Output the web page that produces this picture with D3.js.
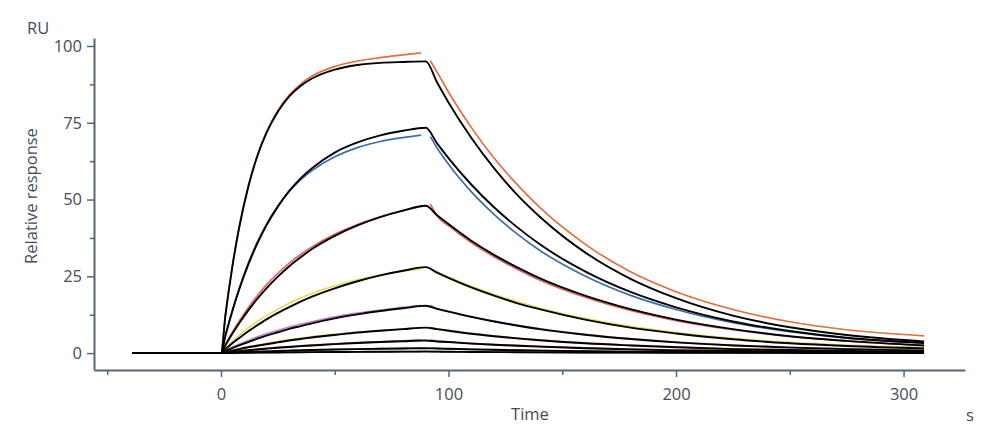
<!DOCTYPE html>
<html>
<head>
<meta charset="utf-8">
<script src="https://cdn.jsdelivr.net/npm/d3@7"></script>
<style>
body { margin: 0; background: #fff; }
text { font-family: "Open Sans", "Noto Sans", sans-serif; fill: #454c57; }
</style>
</head>
<body>
<div id="viz"></div>
<script>
// time points (s) of measured association / dissociation phases and of the fitted curves
const tAssoc = [-39, 0, 2, 5, 8, 12, 16, 20, 25, 30, 35, 40, 50, 60, 70, 80, 88];
const tDissoc = [92, 95, 100, 110, 120, 130, 140, 160, 180, 200, 225, 250, 275, 309];
const tFit = [-39, 0, 2, 5, 8, 12, 16, 20, 25, 30, 35, 40, 50, 60, 70, 80, 90,
              95, 100, 110, 120, 130, 140, 160, 180, 200, 225, 250, 275, 309];

// measured responses (RU), one pair of arrays per concentration, highest first
const orangeAssoc = [0, 0, 12.8, 28.5, 41.2, 54.5, 64.5, 72, 79, 84, 87.6, 90.2, 93.3, 95.1, 96.2, 97.1, 97.8];
const orangeDissoc = [95.2, 91.5, 85, 73.5, 63.5, 55, 47.5, 35.5, 26.5, 20, 14.2, 10.2, 7.6, 5.6];
const blueAssoc = [0, 0, 5.8, 13.8, 21, 29.3, 36.2, 42, 47.8, 52.6, 56.4, 59.4, 63.9, 66.9, 68.9, 70.2, 71.0];
const blueDissoc = [70.5, 66.8, 61.5, 52.6, 45.2, 38.9, 33.5, 25.1, 18.8, 14.2, 9.9, 7.0, 4.9, 3.3];
const redAssoc = [0, 0, 2.8, 6.8, 10.4, 14.8, 18.7, 22.2, 26, 29.3, 32.1, 34.6, 38.7, 41.9, 44.4, 46.4, 47.8];
const redDissoc = [48.6, 44.6, 41.5, 36, 31.4, 27.4, 23.8, 18.2, 13.9, 10.6, 7.6, 5.4, 3.9, 2.5];
const yellowAssoc = [0, 0, 1.6, 3.8, 5.8, 8.2, 10.3, 12.2, 14.3, 16.2, 17.9, 19.4, 21.9, 23.9, 25.5, 26.7, 27.5];
const yellowDissoc = [27.4, 26.4, 24.8, 21.8, 19.1, 16.8, 14.7, 11.3, 8.7, 6.7, 4.8, 3.5, 2.6, 1.8];
const purpleAssoc = [0, 0, 0.8, 1.9, 2.9, 4.1, 5.3, 6.3, 7.4, 8.5, 9.4, 10.2, 11.8, 13.0, 14.0, 14.9, 15.5];
const purpleDissoc = [15.6, 14.5, 13.6, 11.9, 10.4, 9.1, 8.0, 6.1, 4.7, 3.6, 2.6, 1.9, 1.4, 0.9];
const oliveAssoc = [0, 0, 0.4, 0.9, 1.4, 2.0, 2.6, 3.1, 3.7, 4.3, 4.8, 5.3, 6.1, 6.8, 7.4, 7.9, 8.3];
const oliveDissoc = [8.4, 7.9, 7.4, 6.4, 5.6, 4.9, 4.3, 3.3, 2.6, 2.0, 1.4, 1.1, 0.8, 0.6];
const pinkAssoc = [0, 0, 0.2, 0.45, 0.7, 1.0, 1.3, 1.55, 1.85, 2.1, 2.4, 2.6, 3.0, 3.4, 3.7, 4.0, 4.2];
const pinkDissoc = [4.2, 3.9, 3.7, 3.2, 2.8, 2.5, 2.2, 1.7, 1.3, 1.0, 0.8, 0.6, 0.4, 0.3];
const greenAssoc = [0, 0, 0.08, 0.18, 0.27, 0.38, 0.49, 0.59, 0.71, 0.82, 0.92, 1.01, 1.18, 1.32, 1.44, 1.54, 1.6];
const greenDissoc = [1.6, 1.5, 1.4, 1.22, 1.08, 0.95, 0.83, 0.64, 0.5, 0.38, 0.28, 0.2, 0.15, 0.1];
const brownAssoc = [0, 0, 0.02, 0.05, 0.08, 0.11, 0.15, 0.18, 0.22, 0.25, 0.28, 0.31, 0.36, 0.4, 0.44, 0.47, 0.5];
const brownDissoc = [0.5, 0.47, 0.44, 0.38, 0.33, 0.29, 0.25, 0.19, 0.15, 0.11, 0.08, 0.06, 0.04, 0.03];

// fitted curves (black), same order
const fit1 = [0, 0, 12.5, 28.1, 40.8, 54.1, 64.2, 71.7, 78.6, 83.6, 87.0, 89.4, 92.3, 93.8, 94.5, 94.8, 95.0,
              88.1, 81.6, 70.1, 60.2, 51.7, 44.5, 32.8, 24.2, 17.9, 12.2, 8.4, 5.9, 3.8];
const fit2 = [0, 0, 5.8, 13.7, 20.7, 28.8, 35.7, 41.6, 47.7, 52.8, 56.9, 60.2, 65.3, 68.6, 70.9, 72.4, 73.4,
              68.3, 63.5, 54.9, 47.5, 41.1, 35.5, 26.6, 19.9, 14.9, 10.3, 7.2, 5.0, 3.3];
const fit3 = [0, 0, 2.6, 6.3, 9.7, 13.9, 17.7, 21.1, 24.9, 28.3, 31.2, 33.9, 38.2, 41.6, 44.3, 46.4, 48.0,
              44.9, 42.0, 36.6, 32.0, 28.0, 24.4, 18.7, 14.3, 10.9, 7.8, 5.5, 4.0, 2.5];
const fit4 = [0, 0, 1.3, 3.2, 4.9, 7.1, 9.1, 11.0, 13.1, 15.0, 16.8, 18.4, 21.1, 23.4, 25.3, 26.8, 28.0,
              26.2, 24.5, 21.4, 18.7, 16.3, 14.3, 10.9, 8.3, 6.4, 4.5, 3.2, 2.3, 1.5];
const fit5 = [0, 0, 0.65, 1.6, 2.5, 3.6, 4.7, 5.7, 6.8, 7.9, 8.8, 9.7, 11.3, 12.6, 13.7, 14.6, 15.4,
              14.4, 13.5, 11.8, 10.3, 9.0, 7.8, 6.0, 4.6, 3.5, 2.5, 1.8, 1.3, 0.8];
const fit6 = [0, 0, 0.34, 0.8, 1.3, 1.9, 2.4, 2.9, 3.5, 4.1, 4.6, 5.1, 5.9, 6.7, 7.3, 7.8, 8.3,
              7.8, 7.3, 6.3, 5.5, 4.8, 4.2, 3.2, 2.5, 1.9, 1.3, 1.0, 0.7, 0.4];
const fit7 = [0, 0, 0.17, 0.4, 0.62, 0.91, 1.18, 1.43, 1.73, 2.0, 2.26, 2.49, 2.92, 3.28, 3.6, 3.87, 4.1,
              3.8, 3.6, 3.1, 2.7, 2.4, 2.1, 1.6, 1.2, 0.9, 0.7, 0.5, 0.3, 0.2];
const fit8 = [0, 0, 0.07, 0.16, 0.25, 0.36, 0.47, 0.57, 0.69, 0.8, 0.9, 0.99, 1.16, 1.3, 1.42, 1.52, 1.6,
              1.5, 1.4, 1.2, 1.07, 0.93, 0.81, 0.62, 0.48, 0.36, 0.26, 0.18, 0.13, 0.08];
const fit9 = [0, 0, 0.02, 0.05, 0.08, 0.11, 0.15, 0.18, 0.22, 0.25, 0.28, 0.31, 0.36, 0.4, 0.44, 0.47, 0.5,
              0.47, 0.44, 0.38, 0.33, 0.29, 0.25, 0.19, 0.15, 0.11, 0.08, 0.06, 0.04, 0.03];

const seriesColors = ["#e2703f", "#3b6ea8", "#e06262", "#e4dc5c", "#c07cc8", "#c8a74a", "#d8507f", "#3e8a50", "#9a7b4f"];
const yMajor = [0, 25, 50, 75, 100];
const yMinor = [12.5, 37.5, 62.5, 87.5];
const xMajor = [0, 100, 200, 300];
const xMinor = [-50, 50, 150, 250];

const measured = [
    [orangeAssoc, orangeDissoc], [blueAssoc, blueDissoc], [redAssoc, redDissoc],
    [yellowAssoc, yellowDissoc], [purpleAssoc, purpleDissoc], [oliveAssoc, oliveDissoc],
    [pinkAssoc, pinkDissoc], [greenAssoc, greenDissoc], [brownAssoc, brownDissoc]
];
const fits = [fit1, fit2, fit3, fit4, fit5, fit6, fit7, fit8, fit9];

const width = 1000;
const height = 441;
const axisColor = "#5b6573";
const fontSize = 16.5;

var svg = d3.select("#viz")
    .append("svg")
    .attr("width", width)
    .attr("height", height);

// scales map straight to pixels of the page
const x = d3.scaleLinear().domain([-55.8, 327]).range([94, 965]);
const y = d3.scaleLinear().domain([-5.5, 102.6]).range([370, 38]);

// y axis: major with labels, minor without
svg.append("g")
    .attr("transform", "translate(94,0)")
    .call(d3.axisLeft(y).tickValues(yMajor).tickSize(7).tickPadding(5).tickSizeOuter(0));
svg.append("g")
    .attr("transform", "translate(94,0)")
    .call(d3.axisLeft(y).tickValues(yMinor).tickSize(4).tickFormat("").tickSizeOuter(0))
    .select(".domain").remove();

// x axis
svg.append("g")
    .attr("transform", "translate(0,370)")
    .call(d3.axisBottom(x).tickValues(xMajor).tickSize(7).tickPadding(11).tickSizeOuter(0));
svg.append("g")
    .attr("transform", "translate(0,370)")
    .call(d3.axisBottom(x).tickValues(xMinor).tickSize(5).tickFormat("").tickSizeOuter(0))
    .select(".domain").remove();

svg.selectAll(".domain").attr("stroke", axisColor).attr("stroke-width", 2);
svg.selectAll(".tick line").attr("stroke", axisColor).attr("stroke-width", 1.5);
svg.selectAll(".tick text")
    .attr("font-family", "'Open Sans', 'Noto Sans', sans-serif")
    .attr("font-size", fontSize)
    .attr("fill", "#454c57");

// axis titles
svg.append("text").attr("x", 27).attr("y", 34).attr("font-size", fontSize).text("RU");
svg.append("text")
    .attr("transform", "translate(37,196) rotate(-90)")
    .attr("text-anchor", "middle")
    .attr("font-size", fontSize)
    .text("Relative response");
svg.append("text").attr("x", 530).attr("y", 420).attr("text-anchor", "middle").attr("font-size", fontSize).text("Time");
svg.append("text").attr("x", 970).attr("y", 421).attr("text-anchor", "middle").attr("font-size", fontSize).text("s");

const line = d3.line()
    .x(function(d) {return x(d[0])})
    .y(function(d) {return y(d[1])})
    .curve(d3.curveMonotoneX);

// measured curves (coloured)
var dataG = svg.append("g");
measured.forEach(function(pair, i) {
    dataG.append("path")
        .datum(tAssoc.map(function(t, j) {return [t, pair[0][j]]}))
        .attr("d", line)
        .attr("fill", "none")
        .attr("stroke", seriesColors[i])
        .attr("stroke-width", 1.7);
    dataG.append("path")
        .datum(tDissoc.map(function(t, j) {return [t, pair[1][j]]}))
        .attr("d", line)
        .attr("fill", "none")
        .attr("stroke", seriesColors[i])
        .attr("stroke-width", 1.7);
});

// fitted curves (black) drawn on top
var fitG = svg.append("g");
fits.forEach(function(vals) {
    fitG.append("path")
        .datum(tFit.map(function(t, j) {return [t, vals[j]]}))
        .attr("d", line)
        .attr("fill", "none")
        .attr("stroke", "#000")
        .attr("stroke-width", 1.9);
});
</script>
</body>
</html>
